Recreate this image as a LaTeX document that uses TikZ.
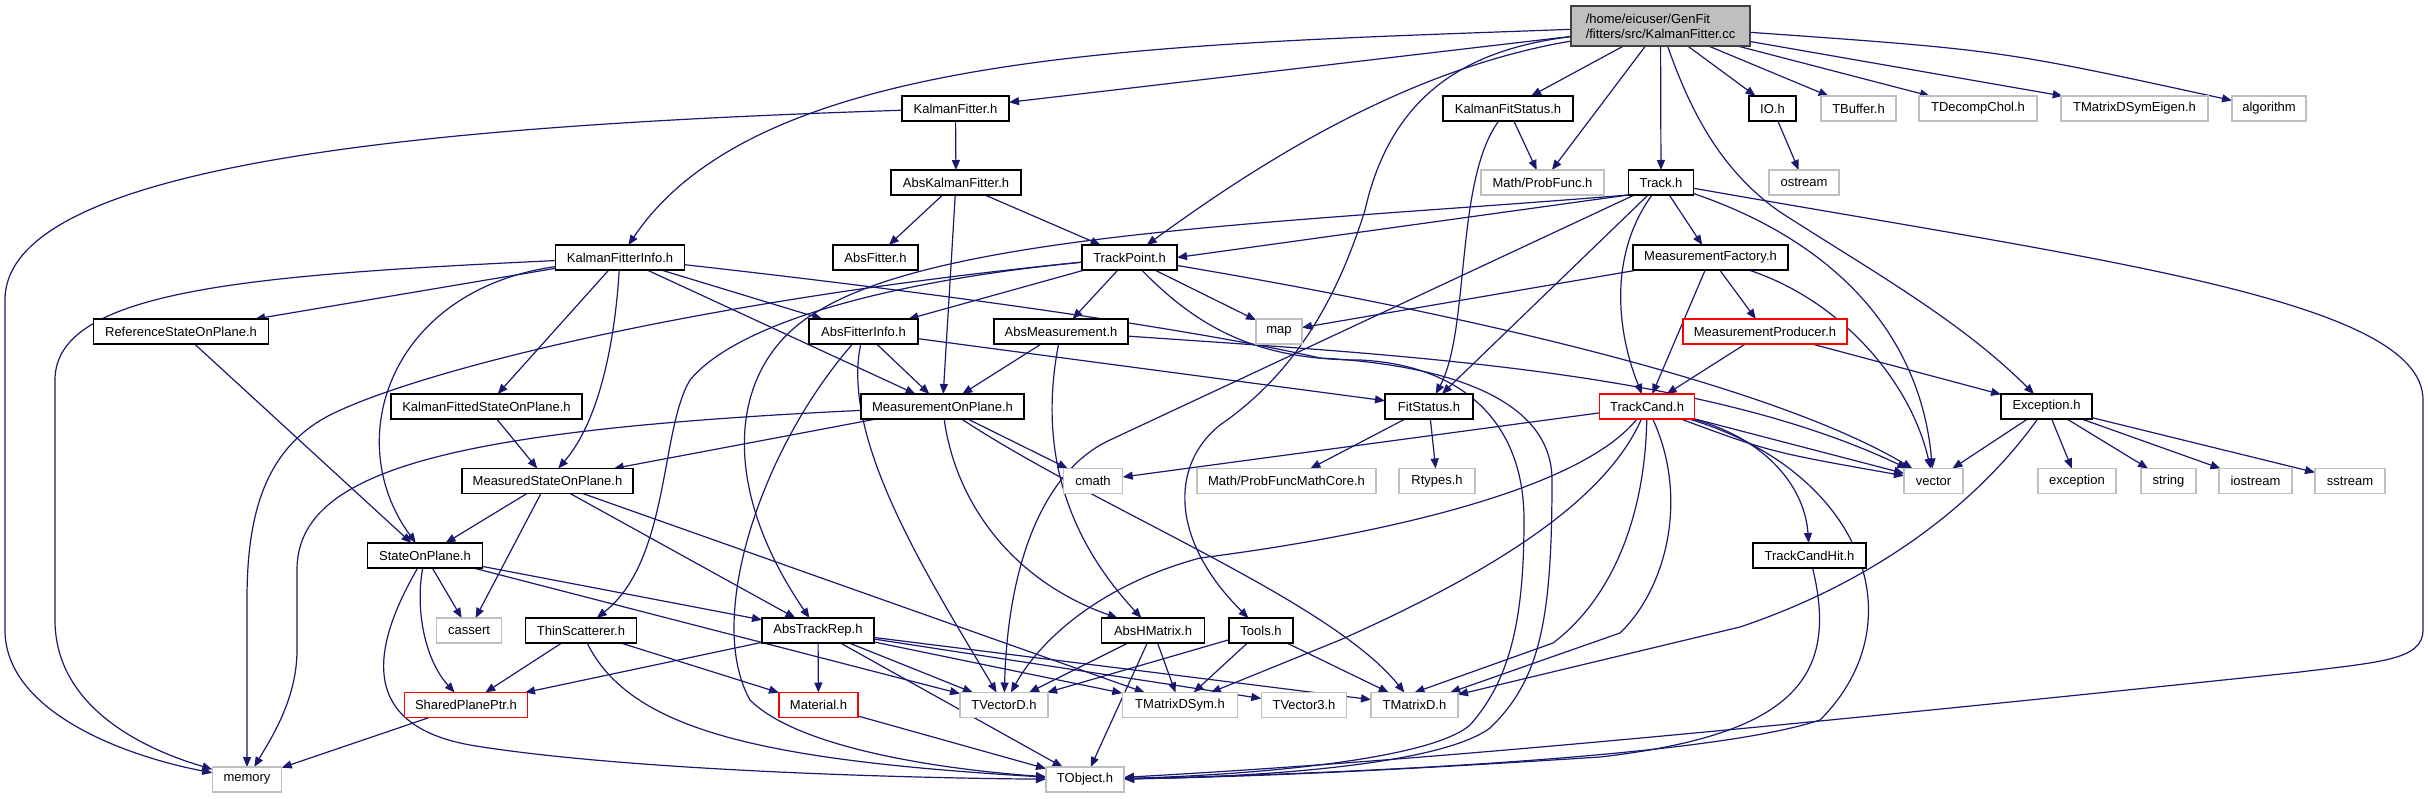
\documentclass[tikz,border=0pt]{standalone}
\usepackage{fontspec}
\setmainfont{Liberation Sans}
\usetikzlibrary{arrows.meta}
\definecolor{edgec}{HTML}{191970}
\definecolor{grayb}{HTML}{BFBFBF}
\definecolor{rootfill}{HTML}{BFBFBF}
\definecolor{redb}{HTML}{FF0000}
\pgfdeclarelayer{back}
\pgfdeclarelayer{bg}
\pgfsetlayers{back,bg,main}
\begin{document}
\begin{tikzpicture}[x=1pt,y=-1pt,
  nb/.style={draw=black,line width=1.3pt,fill=white,minimum height=25pt,inner sep=0pt,outer sep=0pt,font=\fontsize{13}{15}\selectfont},
  ng/.style={nb,draw=grayb},
  nr/.style={nb,draw=redb},
  nroot/.style={nb,draw=black!75,fill=rootfill,minimum height=40pt,align=left},
  e/.style={draw=edgec,line width=1.2pt,-{Triangle[length=10pt,width=8pt]}}]
\useasboundingbox (0,0) rectangle (2428,799);
\begin{pgfonlayer}{back}
\fill[white] (0,0) rectangle (2428,799);
\end{pgfonlayer}
% nodes
\node[nroot,minimum width=179pt] (R) at (1660.5,26) {/home/eicuser/GenFit\\/fitters/src/KalmanFitter.cc};
\node[nb,minimum width=107pt] (KF) at (955.5,108.5) {KalmanFitter.h};
\node[nb,minimum width=130pt] (KFS) at (1508,108.5) {KalmanFitStatus.h};
\node[nb,minimum width=47pt] (IO) at (1772.5,108.5) {IO.h};
\node[ng,minimum width=75pt] (TBuf) at (1858.5,108.5) {TBuffer.h};
\node[ng,minimum width=118pt] (TDC) at (1978,108.5) {TDecompChol.h};
\node[ng,minimum width=147pt] (TMDSE) at (2134.5,108.5) {TMatrixDSymEigen.h};
\node[ng,minimum width=74pt] (alg) at (2269,108.5) {algorithm};
\node[nb,minimum width=130pt] (AKF) at (956,182.5) {AbsKalmanFitter.h};
\node[ng,minimum width=123pt] (PF) at (1542.5,182.5) {Math/ProbFunc.h};
\node[nb,minimum width=65.5pt] (TR) at (1661,182.5) {Track.h};
\node[ng,minimum width=70pt] (ost) at (1804,182.5) {ostream};
\node[nb,minimum width=129pt] (KFI) at (620,257.5) {KalmanFitterInfo.h};
\node[nb,minimum width=85pt] (AF) at (875.5,257.5) {AbsFitter.h};
\node[nb,minimum width=95pt] (TP) at (1129.5,257.5) {TrackPoint.h};
\node[nb,minimum width=155pt] (MF) at (1710.5,257.5) {MeasurementFactory.h};
\node[nb,minimum width=175pt] (RSOP) at (181,331.5) {ReferenceStateOnPlane.h};
\node[nb,minimum width=109pt] (AFI) at (863.5,331.5) {AbsFitterInfo.h};
\node[nb,minimum width=134pt] (AM) at (1061,331.5) {AbsMeasurement.h};
\node[ng,minimum width=46pt] (map) at (1279,331.5) {map};
\node[nr,minimum width=164pt] (MP) at (1765,331.5) {MeasurementProducer.h};
\node[nb,minimum width=191pt] (KFSOP) at (486.5,406.5) {KalmanFittedStateOnPlane.h};
\node[nb,minimum width=163pt] (MOP) at (942.5,406.5) {MeasurementOnPlane.h};
\node[nb,minimum width=88pt] (FS) at (1429,406.5) {FitStatus.h};
\node[nr,minimum width=95pt] (TC) at (1647,406.5) {TrackCand.h};
\node[nb,minimum width=91pt] (EX) at (2046.5,406.5) {Exception.h};
\node[nb,minimum width=171pt] (MSOP) at (547.5,481) {MeasuredStateOnPlane.h};
\node[ng,minimum width=59.5pt] (cmath) at (1093,481) {cmath};
\node[ng,minimum width=179pt] (PFMC) at (1286.5,481) {Math/ProbFuncMathCore.h};
\node[ng,minimum width=76pt] (Rty) at (1437,481) {Rtypes.h};
\node[ng,minimum width=59pt] (vec) at (1933.5,481) {vector};
\node[ng,minimum width=78pt] (exc) at (2077,481) {exception};
\node[ng,minimum width=55pt] (str) at (2168.5,481) {string};
\node[ng,minimum width=73pt] (ios) at (2255.5,481) {iostream};
\node[ng,minimum width=70pt] (sst) at (2350,481) {sstream};
\node[nb,minimum width=115.5pt] (SOP) at (425,555.5) {StateOnPlane.h};
\node[nb,minimum width=113pt] (TCH) at (1809.5,555.5) {TrackCandHit.h};
\node[ng,minimum width=65.5pt] (cas) at (469,630.5) {cassert};
\node[nb,minimum width=111.5pt] (ThS) at (581,630.5) {ThinScatterer.h};
\node[nb,minimum width=112pt] (ATR) at (818,630.5) {AbsTrackRep.h};
\node[nb,minimum width=102.5pt] (AHM) at (1153,630.5) {AbsHMatrix.h};
\node[nb,minimum width=64pt] (Tools) at (1261,630.5) {Tools.h};
\node[nr,minimum width=122.5pt] (SPP) at (466,705) {SharedPlanePtr.h};
\node[nr,minimum width=79pt] (Mat) at (818.5,705) {Material.h};
\node[ng,minimum width=88pt] (TVD) at (1004,705) {TVectorD.h};
\node[ng,minimum width=115.5pt] (TMDS) at (1180,705) {TMatrixDSym.h};
\node[ng,minimum width=85.5pt] (TV3) at (1304,705) {TVector3.h};
\node[ng,minimum width=87pt] (TMD) at (1414.5,705) {TMatrixD.h};
\node[ng,minimum width=69.5pt] (mem) at (247,779.5) {memory};
\node[ng,minimum width=78pt] (TOb) at (1085,779.5) {TObject.h};
\begin{pgfonlayer}{bg}
% root
\draw[e] (R) -- (KF);
\draw[e] (R) .. controls (1150,45) and (760,50) .. (KFI);
\draw[e] (R) .. controls (1400,70) and (1250,170) .. (TP);
\draw[e] (R) -- (KFS);
\draw[e] (R) -- (PF);
\draw[e] (R) -- (TR);
\draw[e] (R) .. controls (1460,50) and (1390,100) .. (1365,210) .. controls (1340,290) and (1300,370) .. (1220,425) .. controls (1170,465) and (1170,540) .. (Tools);
\draw[e] (R) .. controls (1690,110) and (1720,170) .. (1780,212) .. controls (1870,270) and (1960,320) .. (EX);
\draw[e] (R) -- (IO);
\draw[e] (R) -- (TBuf);
\draw[e] (R) -- (TDC);
\draw[e] (R) -- (TMDSE);
\draw[e] (R) .. controls (2000,50) .. (alg);
% KalmanFitter
\draw[e] (KF) -- (AKF);
\draw[e] (KF) .. controls (450,125) and (5,160) .. (5,300) -- (5,630) .. controls (5,710) and (120,755) .. (mem);
\draw[e] (AKF) -- (AF);
\draw[e] (AKF) -- (TP);
\draw[e] (AKF) -- (MOP);
\draw[e] (KFS) -- (PF);
\draw[e] (KFS) .. controls (1455,180) and (1470,330) .. (FS);
\draw[e] (IO) -- (ost);
% Track
\draw[e] (TR.south west) -- (TP.east);
\draw[e] (TR.south west) .. controls (1300,222) and (950,232) .. (820,310) .. controls (730,360) and (715,480) .. (ATR);
\draw[e] (TR) -- (FS);
\draw[e] (TR) .. controls (1605,260) and (1620,340) .. (TC);
\draw[e] (TR) -- (MF);
\draw[e] (TR) .. controls (1830,240) and (1920,330) .. (vec);
\draw[e] (TR) .. controls (2100,260) and (2423,300) .. (2423,400) -- (2423,630) .. controls (2423,660) and (2380,662) .. (2300,672) .. controls (1700,735) and (1400,762) .. (TOb);
\draw[e] (TR) -- (1110,440) .. controls (1045,470) and (1008,560) .. (TVD);
% MeasurementFactory etc
\draw[e] (MF) -- (map);
\draw[e] (MF) -- (MP);
\draw[e] (MF) -- (TC);
\draw[e] (MF) .. controls (1840,300) and (1910,380) .. (vec);
\draw[e] (MP) -- (TC);
\draw[e] (MP) -- (EX);
\draw[e] (EX) -- (vec);
\draw[e] (EX) -- (exc);
\draw[e] (EX) -- (str);
\draw[e] (EX) -- (ios);
\draw[e] (EX) -- (sst);
\draw[e] (EX) .. controls (1980,500) and (1880,580) .. (1740,627) -- (TMD);
% TrackPoint
\draw[e] (TP) -- (AFI);
\draw[e] (TP) -- (AM);
\draw[e] (TP) -- (map);
\draw[e] (TP) .. controls (1500,320) and (1780,390) .. (vec);
\draw[e] (TP) .. controls (700,300) and (420,370) .. (330,415) .. controls (262,450) and (247,520) .. (247,600) -- (mem);
\draw[e] (TP) .. controls (900,280) and (740,320) .. (690,380) .. controls (660,430) and (670,560) .. (ThS);
\draw[e] (TP) .. controls (1200,330) and (1260,360) .. (1360,360) .. controls (1460,365) and (1524,420) .. (1524,520) .. controls (1524,620) and (1510,680) .. (1470,725) .. controls (1430,760) and (1250,775) .. (TOb);
% KalmanFitterInfo
\draw[e] (KFI) .. controls (1000,300) and (1220,335) .. (1320,358) .. controls (1450,365) and (1552,400) .. (1552,480) .. controls (1552,620) and (1540,680) .. (1490,728) .. controls (1440,765) and (1260,777) .. (TOb);
\draw[e] (KFI) .. controls (250,275) and (55,290) .. (55,380) -- (55,620) .. controls (55,700) and (130,745) .. (mem);
\draw[e] (KFI) -- (RSOP);
\draw[e] (KFI) .. controls (390,290) and (340,440) .. (SOP);
\draw[e] (KFI) -- (KFSOP);
\draw[e] (KFI) .. controls (615,340) and (600,420) .. (MSOP);
\draw[e] (KFI) -- (MOP);
\draw[e] (KFI) -- (AFI);
% AbsMeasurement, AbsFitterInfo
\draw[e] (AM) .. controls (1400,355) and (1700,370) .. (vec);
\draw[e] (AM) -- (MOP);
\draw[e] (AM) .. controls (1040,440) and (1060,530) .. (AHM);
\draw[e] (AFI) -- (MOP);
\draw[e] (AFI) -- (FS);
\draw[e] (AFI) .. controls (840,440) and (930,580) .. (TVD);
\draw[e] (AFI) .. controls (760,450) and (705,620) .. (750,700) .. controls (800,750) and (950,770) .. (TOb);
% state on plane family
\draw[e] (RSOP) -- (SOP);
\draw[e] (KFSOP) -- (MSOP);
\draw[e] (MOP) .. controls (450,430) and (297,470) .. (297,570) -- (297,650) .. controls (297,700) and (270,740) .. (mem);
\draw[e] (MOP) -- (MSOP);
\draw[e] (MOP) -- (cmath);
\draw[e] (MOP) .. controls (955,500) and (1010,580) .. (AHM);
\draw[e] (MOP) .. controls (1100,510) and (1330,600) .. (TMD);
\draw[e] (MSOP) -- (SOP);
\draw[e] (MSOP) -- (cas);
\draw[e] (MSOP) -- (ATR);
\draw[e] (MSOP) -- (TMDS);
\draw[e] (SOP) -- (cas);
\draw[e] (SOP) .. controls (415,610) and (425,660) .. (SPP);
\draw[e] (SOP) -- (ATR);
\draw[e] (SOP) -- (TVD);
\draw[e] (SOP) .. controls (370,650) and (360,725) .. (470,745) .. controls (620,770) and (900,778) .. (TOb);
\draw[e] (ThS) -- (SPP);
\draw[e] (ThS) -- (Mat);
\draw[e] (ThS) .. controls (630,730) and (760,760) .. (TOb);
\draw[e] (SPP) -- (mem);
% AbsTrackRep
\draw[e] (ATR) -- (SPP);
\draw[e] (ATR) -- (Mat);
\draw[e] (ATR) -- (TOb);
\draw[e] (ATR) -- (TVD);
\draw[e] (ATR) -- (TMDS);
\draw[e] (ATR) -- (TV3);
\draw[e] (ATR) -- (TMD);
\draw[e] (Mat) -- (TOb);
\draw[e] (AHM) -- (TVD);
\draw[e] (AHM) -- (TMDS);
\draw[e] (AHM) -- (TOb);
\draw[e] (Tools) -- (TVD);
\draw[e] (Tools) -- (TMDS);
\draw[e] (Tools) -- (TMD);
\draw[e] (FS) -- (PFMC);
\draw[e] (FS) -- (Rty);
% TrackCand
\draw[e] (TC) -- (cmath);
\draw[e] (TC) -- (vec);
\draw[e] (TC) .. controls (1770,452) .. (vec);
\draw[e] (TC) .. controls (1770,440) and (1805,490) .. (TCH);
\draw[e] (TC) .. controls (1860,470) and (1920,620) .. (1820,720) .. controls (1700,760) and (1300,775) .. (TOb);
\draw[e] (TCH) .. controls (1840,680) and (1790,735) .. (1600,757) .. controls (1400,770) and (1250,777) .. (TOb);
\draw[e] (TC) .. controls (1580,490) and (1380,535) .. (1200,558) .. controls (1100,585) and (1040,640) .. (TVD);
\draw[e] (TC) .. controls (1610,490) and (1520,560) .. (1340,640) -- (TMDS);
\draw[e] (TC) .. controls (1645,520) and (1610,600) .. (1553,643) -- (TMD.north);
\draw[e] (TC) .. controls (1690,500) and (1665,590) .. (1620,633) -- (TMD);
\end{pgfonlayer}
\end{tikzpicture}
\end{document}
